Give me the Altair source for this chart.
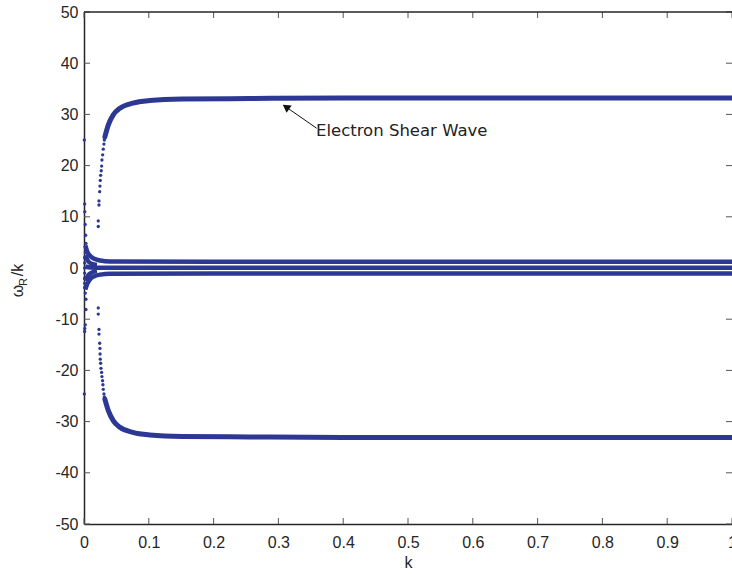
import altair as alt
import pandas as pd

W, H = 648, 512
BLUE = "#2c3894"
INK = "#262626"

# ---- data ----
# Electron shear wave, upper branch: separated dots at small k
up_dot_k = [0.0220, 0.0220, 0.0231, 0.0231, 0.0242, 0.0246, 0.0251, 0.0257, 0.0266, 0.0272, 0.0277, 0.0288, 0.0297, 0.0308, 0.0314]
up_dot_y = [8.1, 9.2, 12.3, 13.1, 14.9, 16.0, 17.1, 18.1, 19.0, 19.9, 21.1, 22.1, 23.2, 24.2, 25.0]
# upper branch: dense part (dots merge into a band)
up_line_k = [0.0322, 0.0374, 0.0451, 0.0554, 0.0754, 0.1015, 0.152, 0.255, 0.4, 0.6, 0.8, 1.0]
up_line_y = [25.6, 27.9, 29.9, 31.2, 32.2, 32.7, 33.0, 33.1, 33.2, 33.2, 33.2, 33.2]

# lower branch
lo_dot_k = [0.0220, 0.0220, 0.0231, 0.0231, 0.0242, 0.0246, 0.0248, 0.0251, 0.0257, 0.0262, 0.0272, 0.0277, 0.0287, 0.0292, 0.0297, 0.0308, 0.0314]
lo_dot_y = [-7.8, -9.0, -12.0, -12.9, -14.7, -15.7, -16.8, -17.8, -18.6, -19.6, -20.4, -21.2, -22.0, -22.8, -23.7, -24.6, -25.2]
lo_line_k = [0.0322, 0.0374, 0.0451, 0.0554, 0.0754, 0.1015, 0.152, 0.255, 0.4, 0.6, 0.8, 1.0]
lo_line_y = [-25.6, -27.8, -29.8, -31.1, -32.1, -32.6, -32.9, -33.0, -33.1, -33.1, -33.1, -33.1]

# dots clustered at k close to 0
near0_k = [0.0005, 0.0005, 0.0010, 0.0012, 0.0018, 0.0025, 0.0030, 0.0032, 0.0020, 0.0010, 0.0010, 0.0010, 0.0010,
           0.0010, 0.0010, 0.0010, 0.0020, 0.0030, 0.0030, 0.0020, 0.0012, 0.0010]
near0_y = [25.0, -24.6, 12.5, 11.0, 8.5, 6.4, 4.8, 4.0, 3.0, 2.0, 1.0, 0.0, -1.0, -2.0, -3.0, -3.8, -4.9, -6.1,
           -8.1, -11.1, -11.8, -12.4]

# the three low-frequency bands near zero
band_top_k = [0.002, 0.005, 0.010, 0.016, 0.025, 0.040, 0.2, 0.6, 1.0]
band_top_y = [4.4, 3.2, 2.3, 1.8, 1.45, 1.25, 1.22, 1.21, 1.21]
band_mid_k = [0.002, 0.010, 0.030, 0.2, 0.6, 1.0]
band_mid_y = [0.3, 0.1, 0.04, 0.03, 0.03, 0.03]
band_bot_k = [0.002, 0.005, 0.010, 0.016, 0.025, 0.040, 0.2, 0.6, 1.0]
band_bot_y = [-4.2, -3.1, -2.1, -1.6, -1.3, -1.1, -1.07, -1.07, -1.07]
fan_a_k = [0.002, 0.006, 0.012, 0.020]
fan_a_y = [2.5, 1.4, 0.8, 0.6]
fan_b_k = [0.002, 0.006, 0.012, 0.020]
fan_b_y = [-2.5, -1.5, -0.9, -0.6]

x_ticks = [0, 0.1, 0.2, 0.3, 0.4, 0.5, 0.6, 0.7, 0.8, 0.9, 1]
y_ticks = [-50, -40, -30, -20, -10, 0, 10, 20, 30, 40, 50]

# annotation
label_text = "Electron Shear Wave"
label_k, label_y = 0.358, 26.8
arrow_tail_k, arrow_tail_y = 0.359, 27.3
arrow_head_k, arrow_head_y = 0.3117, 31.46

# ---- tables ----
dots = pd.DataFrame({"k": up_dot_k + lo_dot_k + near0_k, "y": up_dot_y + lo_dot_y + near0_y})
shear = pd.DataFrame({
    "k": up_line_k + lo_line_k,
    "y": up_line_y + lo_line_y,
    "s": ["up"] * len(up_line_k) + ["lo"] * len(lo_line_k),
})
bands = pd.DataFrame({
    "k": band_top_k + band_mid_k + band_bot_k + fan_a_k + fan_b_k,
    "y": band_top_y + band_mid_y + band_bot_y + fan_a_y + fan_b_y,
    "s": ["t"] * len(band_top_k) + ["m"] * len(band_mid_k) + ["b"] * len(band_bot_k)
         + ["fa"] * len(fan_a_k) + ["fb"] * len(fan_b_k),
})

xs = alt.Scale(domain=[0, 1], nice=False, zero=False)
ys = alt.Scale(domain=[-50, 50], nice=False, zero=False)

x_axis = alt.Axis(values=x_ticks, labelExpr="'' + datum.value", ticks=False, tickSize=0, grid=False,
                  labelPadding=10, labelFontSize=16, labelFont="Liberation Sans", labelColor=INK,
                  domainColor=INK, domainWidth=1.5, title="k", titleFontSize=16, titleFont="Liberation Sans",
                  titleFontWeight="normal", titleColor=INK, titlePadding=4, labelFlush=False,
                  labelOverlap=False)
y_axis = alt.Axis(values=y_ticks, labelExpr="'' + datum.value", ticks=False, tickSize=0, grid=False,
                  labelPadding=6, labelFontSize=16, labelFont="Liberation Sans", labelColor=INK,
                  domainColor=INK, domainWidth=1.5, title=None, labelFlush=False, labelOverlap=False)

base_x = alt.X("k:Q", scale=xs, axis=x_axis)
base_y = alt.Y("y:Q", scale=ys, axis=y_axis)

shear_layer = alt.Chart(shear).mark_line(strokeWidth=5, interpolate="monotone", color=BLUE,
                                         strokeCap="round").encode(
    x=base_x, y=base_y, detail="s:N")
band_layer = alt.Chart(bands).mark_line(strokeWidth=4.5, interpolate="monotone", color=BLUE).encode(
    x=alt.X("k:Q", scale=xs), y=alt.Y("y:Q", scale=ys), detail="s:N")
dot_layer = alt.Chart(dots).mark_circle(size=11, color=BLUE, opacity=1).encode(
    x=alt.X("k:Q", scale=xs), y=alt.Y("y:Q", scale=ys))

# inward ticks and top frame line
yt = pd.DataFrame({"v": y_ticks})
xt = pd.DataFrame({"v": x_ticks})
tick_style = dict(color="#555555", strokeWidth=1)
yt_left = alt.Chart(yt).mark_rule(**tick_style).encode(
    y=alt.Y("v:Q", scale=ys), x=alt.value(0), x2=alt.value(6))
yt_right = alt.Chart(yt).mark_rule(**tick_style).encode(
    y=alt.Y("v:Q", scale=ys), x=alt.value(W - 6), x2=alt.value(W))
xt_bot = alt.Chart(xt).mark_rule(**tick_style).encode(
    x=alt.X("v:Q", scale=xs), y=alt.value(H), y2=alt.value(H - 6))
xt_top = alt.Chart(xt).mark_rule(**tick_style).encode(
    x=alt.X("v:Q", scale=xs), y=alt.value(0), y2=alt.value(6))
one = pd.DataFrame({"a": [0]})
top_line = alt.Chart(one).mark_rule(color=INK, strokeWidth=1.5).encode(
    x=alt.value(0), x2=alt.value(W), y=alt.value(0))

# y-axis title  ω_R/k  built from three rotated text pieces
yt_font = dict(font="Liberation Sans", color=INK, angle=270, align="center", baseline="middle")
ytitle_w = alt.Chart(one).mark_text(text="ω", fontSize=16, **yt_font).encode(
    x=alt.value(-66), y=alt.value(279))
ytitle_r = alt.Chart(one).mark_text(text="R", fontSize=11, **yt_font).encode(
    x=alt.value(-60), y=alt.value(270))
ytitle_k = alt.Chart(one).mark_text(text="/k", fontSize=16, **yt_font).encode(
    x=alt.value(-66), y=alt.value(258))

# annotation arrow + text
arrow_df = pd.DataFrame({"k": [arrow_tail_k], "y": [arrow_tail_y], "k2": [arrow_head_k], "y2": [arrow_head_y]})
arrow_line = alt.Chart(arrow_df).mark_rule(color="#111111", strokeWidth=1).encode(
    x=alt.X("k:Q", scale=xs), y=alt.Y("y:Q", scale=ys), x2="k2:Q", y2="y2:Q")
arrow_head = alt.Chart(arrow_df).mark_point(shape="triangle-up", filled=True, size=80, angle=305,
                                             color="#111111", opacity=1).encode(
    x=alt.X("k2:Q", scale=xs), y=alt.Y("y2:Q", scale=ys))
label_df = pd.DataFrame({"k": [label_k], "y": [label_y], "t": [label_text]})
label = alt.Chart(label_df).mark_text(font="DejaVu Sans", fontSize=16.5, color="#222222", align="left",
                                      baseline="middle").encode(
    x=alt.X("k:Q", scale=xs), y=alt.Y("y:Q", scale=ys), text="t:N")

chart = alt.layer(
    yt_left, yt_right, xt_bot, xt_top, top_line,
    shear_layer, band_layer, dot_layer,
    arrow_line, arrow_head, label,
    ytitle_w, ytitle_r, ytitle_k,
).properties(
    width=W, height=H,
    autosize=alt.AutoSizeParams(type="none"),
    padding={"left": 84, "top": 12, "right": 0, "bottom": 50},
    background="white",
).configure_view(stroke=None)

chart.save("out.html", embed_options={"renderer": "svg", "actions": False})
